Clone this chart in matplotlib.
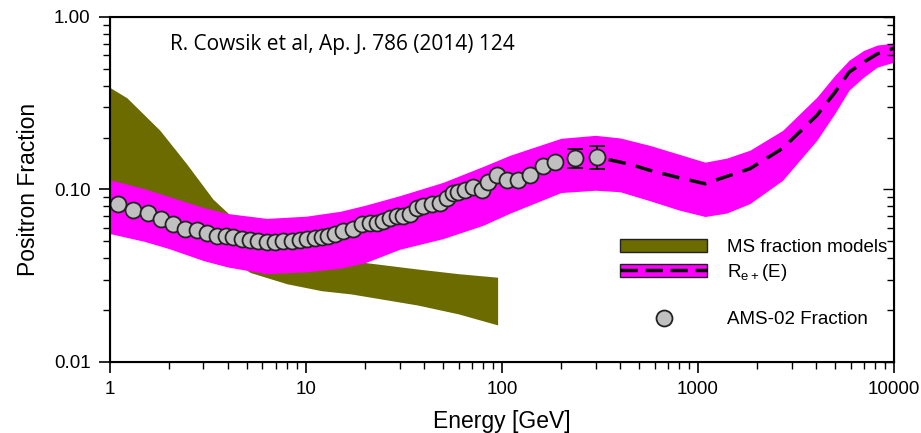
import matplotlib.pyplot as plt
from matplotlib.patches import Patch
from matplotlib.lines import Line2D
from matplotlib.ticker import FixedLocator, FixedFormatter, LogLocator, NullFormatter

# Datos leidos del grafico
# banda magenta R_e+(E)
banda_energia = [1, 1.5, 2, 3, 4, 6.3, 10, 15, 20, 30, 50, 80, 110, 200, 300, 400,
                 569, 800, 1086, 1400, 1840, 2700, 4040, 5000, 5900, 7000, 8200, 10000]
banda_sup = [0.114, 0.101, 0.091, 0.0786, 0.0725, 0.068, 0.070, 0.0748, 0.081, 0.092,
             0.110, 0.136, 0.158, 0.198, 0.206, 0.199, 0.180, 0.160, 0.144, 0.152,
             0.169, 0.220, 0.343, 0.46, 0.562, 0.64, 0.687, 0.706]
banda_inf = [0.0555, 0.050, 0.0454, 0.0387, 0.0355, 0.0325, 0.0333, 0.035, 0.0376, 0.045,
             0.0519, 0.062, 0.073, 0.096, 0.099, 0.097, 0.086, 0.076, 0.0697, 0.073,
             0.0829, 0.113, 0.193, 0.277, 0.377, 0.448, 0.512, 0.547]

# curva central discontinua
linea_energia = [350, 450, 569, 800, 1086, 1400, 1840, 2700, 4040, 5000, 5900, 7000,
                 8200, 10000]
linea_fraccion = [0.149, 0.140, 0.129, 0.117, 0.108, 0.119, 0.132, 0.173, 0.269, 0.366,
                  0.479, 0.547, 0.61, 0.66]

# modelos MS (banda oliva)
ms_energia = [1, 1.22, 1.8, 2.47, 3.35, 4.0, 5.2, 8, 12, 17, 37, 60, 95]
ms_sup = [0.39, 0.34, 0.22, 0.14, 0.088, 0.073, 0.055, 0.046, 0.041, 0.0386, 0.0346,
          0.0325, 0.031]
ms_inf = [0.09, 0.08, 0.065, 0.055, 0.046, 0.040, 0.033, 0.0284, 0.0259, 0.0248, 0.0214,
          0.019, 0.0164]

# AMS-02
ams_energia = [1.10, 1.31, 1.56, 1.82, 2.10, 2.41, 2.78, 3.12, 3.52, 3.91, 4.24, 4.71,
               5.18, 5.69, 6.32, 6.95, 7.63, 8.48, 9.32, 10.1, 11.1, 12.1, 12.9, 14.1,
               15.4, 17.4, 19.3, 21.2, 23.0, 24.7, 26.8, 29.1, 31.3, 33.9, 36.8, 39.5,
               43.9, 48.3, 52.4, 56.2, 59.7, 64.7, 71.1, 79.1, 84.9, 94.3, 106, 121,
               139, 162, 186, 236, 305]
ams_fraccion = [0.0829, 0.0765, 0.0735, 0.0678, 0.0634, 0.0593, 0.0585, 0.0562, 0.0540,
                0.0540, 0.0533, 0.0519, 0.0512, 0.0505, 0.0499, 0.0499, 0.0505, 0.0505,
                0.0512, 0.0519, 0.0526, 0.0533, 0.0540, 0.0555, 0.0578, 0.0593, 0.0634,
                0.0643, 0.0643, 0.0660, 0.0687, 0.0706, 0.0706, 0.0725, 0.0786, 0.0807,
                0.0829, 0.0840, 0.0887, 0.0948, 0.0961, 0.0987, 0.1027, 0.0987, 0.110,
                0.121, 0.113, 0.113, 0.121, 0.136, 0.1435, 0.1515, 0.1535]
ams_err_inf = [0.0] * 51 + [0.0175, 0.0225]
ams_err_sup = [0.0] * 51 + [0.0193, 0.0245]

x_ticks = [1, 10, 100, 1000, 10000]
x_labels = ['1', '10', '100', '1000', '10000']
y_ticks = [0.01, 0.1, 1.0]
y_labels = ['0.01', '0.10', '1.00']

plt.rcParams['font.family'] = ['Liberation Sans', 'DejaVu Sans']

OLIVA = '#6b6b00'
MAGENTA = '#ff00ff'
GRIS = '#c0c0c0'

fig = plt.figure(figsize=(9.21, 4.33), dpi=100)
ax = fig.add_axes([0.1194, 0.164, 0.8513, 0.7968])

ax.fill_between(ms_energia, ms_inf, ms_sup, color=OLIVA, lw=0, zorder=1)
ax.fill_between(banda_energia, banda_inf, banda_sup, color=MAGENTA, lw=0, zorder=2)
ax.plot(linea_energia, linea_fraccion, color='black', lw=2.5, dashes=(5, 3), zorder=3)
ax.errorbar(ams_energia, ams_fraccion, yerr=[ams_err_inf, ams_err_sup], fmt='none',
            ecolor='black', elinewidth=1.2, capsize=6, capthick=1.2, zorder=3)
ax.plot(ams_energia, ams_fraccion, 'o', ms=11.5, mfc=GRIS, mec='#222222', mew=1.3,
        zorder=4)

ax.set_xscale('log')
ax.set_yscale('log')
ax.set_xlim(1, 10000)
ax.set_ylim(0.01, 1.0)

ax.xaxis.set_major_locator(FixedLocator(x_ticks))
ax.xaxis.set_major_formatter(FixedFormatter(x_labels))
ax.xaxis.set_minor_locator(LogLocator(base=10, subs=range(2, 10)))
ax.xaxis.set_minor_formatter(NullFormatter())
ax.yaxis.set_major_locator(FixedLocator(y_ticks))
ax.yaxis.set_major_formatter(FixedFormatter(y_labels))
ax.yaxis.set_minor_locator(LogLocator(base=10, subs=range(2, 10)))
ax.yaxis.set_minor_formatter(NullFormatter())

ax.tick_params(which='major', length=8, width=1.2, labelsize=13.5, pad=6)
ax.tick_params(which='minor', length=5, width=1)
for s in ax.spines.values():
    s.set_linewidth(1.5)

# ticks interiores en el eje derecho
ax2 = ax.twinx()
ax2.set_yscale('log')
ax2.set_ylim(0.01, 1.0)
ax2.yaxis.set_major_locator(FixedLocator(y_ticks))
ax2.yaxis.set_minor_locator(LogLocator(base=10, subs=range(2, 10)))
ax2.yaxis.set_major_formatter(NullFormatter())
ax2.yaxis.set_minor_formatter(NullFormatter())
ax2.tick_params(which='both', direction='in', width=1)
ax2.tick_params(which='major', length=8)
ax2.tick_params(which='minor', length=5)

ax.set_xlabel('Energy [GeV]', fontsize=16.5, labelpad=8)
ax.set_ylabel('Positron Fraction', fontsize=16.5, labelpad=10)

ax.text(0.077, 0.95, 'R. Cowsik et al, Ap. J. 786 (2014) 124', transform=ax.transAxes,
        fontsize=15, family='Open Sans', va='top', ha='left')

h_ms = Patch(facecolor=OLIVA, edgecolor='#222222', lw=1)
h_r = (Patch(facecolor=MAGENTA, edgecolor='#222222', lw=1),
       Line2D([], [], color='black', lw=2.5, dashes=(5, 2.2)))
h_blank = Line2D([], [], color='none')
h_ams = Line2D([], [], marker='o', ls='none', ms=11.5, mfc=GRIS, mec='#222222', mew=1.3)
ax.legend([h_ms, h_r, h_blank, h_ams],
          ['MS fraction models', r'R$_{\mathregular{e+}}$(E)', ' ', 'AMS-02 Fraction'],
          loc='upper left', bbox_to_anchor=(0.632, 0.40), frameon=False, fontsize=13.5,
          handlelength=4.6, handletextpad=1.1, labelspacing=0.3, borderpad=0.3)

fig.savefig('out.png', dpi=100)
